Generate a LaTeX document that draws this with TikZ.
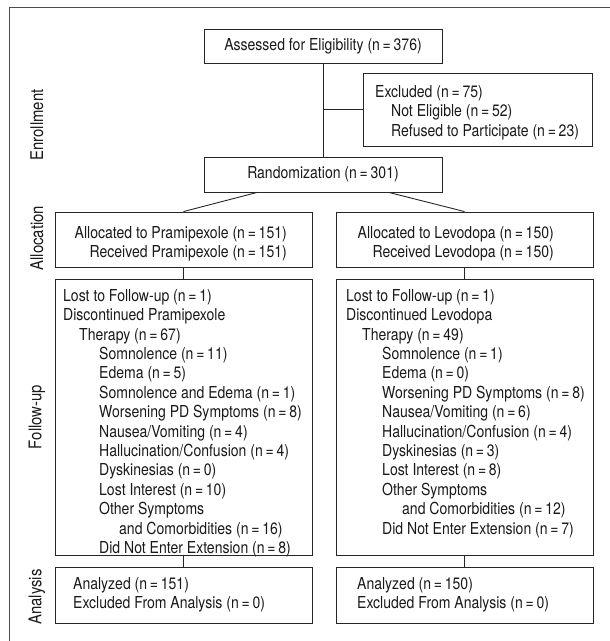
\documentclass[tikz,border=0pt]{standalone}
\usepackage{fontspec}
\setmainfont{TeX Gyre Heros}[FakeStretch=0.85]
\newcommand\eqs{\,=\,}
\newcommand\ia{\hspace*{16pt}}
\newcommand\ib{\hspace*{36pt}}
\newcommand\ic{\hspace*{56pt}}
\begin{document}
\begin{tikzpicture}[x=1pt,y=-1pt,
  box/.style={draw=black!85, line width=0.9pt, inner sep=0pt},
  txt/.style={inner sep=0pt, align=left, anchor=north west, text=black!90,
    font=\fontsize{16.5}{19.4}\selectfont},
  ctxt/.style={inner sep=0pt, text=black!90, font=\fontsize{16.5}{19.4}\selectfont},
  lab/.style={inner sep=0pt, rotate=90, text=black!90, font=\fontsize{17.5}{20}\selectfont},
  conn/.style={draw=black!85, line width=0.9pt}]
\useasboundingbox (0,0) rectangle (610,641);
% outer frame (cropped at right and bottom)
\draw[draw=black!70, line width=1.5pt] (9.5,641) -- (9.5,7.5) -- (610,7.5);

% boxes
\node[box, minimum width=238, minimum height=34] (assess) at (323,46) {};
\node[box, minimum width=229, minimum height=73] (excl) at (477.5,109.5) {};
\node[box, minimum width=238, minimum height=35] (random) at (323,174.5) {};
\node[box, minimum width=257, minimum height=55] (allocL) at (183.5,239.5) {};
\node[box, minimum width=257, minimum height=55] (allocR) at (464.5,239.5) {};
\node[box, minimum width=257, minimum height=276] (fuL) at (183.5,417) {};
\node[box, minimum width=257, minimum height=276] (fuR) at (464.5,417) {};
\node[box, minimum width=257, minimum height=56] (anL) at (183.5,595) {};
\node[box, minimum width=257, minimum height=56] (anR) at (464.5,595) {};

% texts
\node[ctxt] (tassess) at (assess.center) {Assessed for Eligibility (n\eqs376)};
\node[txt] (texcl) at (375,85) {Excluded (n\eqs75)\\
\ia Not Eligible (n\eqs52)\\
\ia Refused to Participate (n\eqs23)};
\node[ctxt] (trandom) at (random.center) {Randomization (n\eqs301)};
\node[txt, align=right, anchor=north east] (tallocL) at (287,226) {Allocated to Pramipexole (n\eqs151)\\
Received Pramipexole (n\eqs151)};
\node[txt, align=right, anchor=north east] (tallocR) at (554,226) {Allocated to Levodopa (n\eqs150)\\
Received Levodopa (n\eqs150)};
\node[txt] (tfuL) at (63,289) {Lost to Follow-up (n\eqs1)\\
Discontinued Pramipexole\\
\ia Therapy (n\eqs67)\\
\ib Somnolence (n\eqs11)\\
\ib Edema (n\eqs5)\\
\ib Somnolence and Edema (n\eqs1)\\
\ib Worsening PD Symptoms (n\eqs8)\\
\ib Nausea/Vomiting (n\eqs4)\\
\ib Hallucination/Confusion (n\eqs4)\\
\ib Dyskinesias (n\eqs0)\\
\ib Lost Interest (n\eqs10)\\
\ib Other Symptoms\\
\ic and Comorbidities (n\eqs16)\\
\ib Did Not Enter Extension (n\eqs8)};
\node[txt] (tfuR) at (346,289) {Lost to Follow-up (n\eqs1)\\
Discontinued Levodopa\\
\ia Therapy (n\eqs49)\\
\ib Somnolence (n\eqs1)\\
\ib Edema (n\eqs0)\\
\ib Worsening PD Symptoms (n\eqs8)\\
\ib Nausea/Vomiting (n\eqs6)\\
\ib Hallucination/Confusion (n\eqs4)\\
\ib Dyskinesias (n\eqs3)\\
\ib Lost Interest (n\eqs8)\\
\ib Other Symptoms\\
\ic and Comorbidities (n\eqs12)\\
\ib Did Not Enter Extension (n\eqs7)};
\node[txt] (tanL) at (73,577) {Analyzed (n\eqs151)\\
Excluded From Analysis (n\eqs0)};
\node[txt] (tanR) at (357,577) {Analyzed (n\eqs150)\\
Excluded From Analysis (n\eqs0)};

% section labels
\node[lab] (lenr) at (37,125) {Enrollment};
\node[lab] (lall) at (37,238) {Allocation};
\node[lab] (lfu) at (37,417) {Follow-up};
\node[lab] (lan) at (37,597) {Analysis};

% connectors
\draw[conn] (assess.south) -- (random.north);
\draw[conn] (assess.south |- excl.west) -- (excl.west);
\draw[conn] ([xshift=-66pt]random.south) -- (allocL.north);
\draw[conn] ([xshift=66pt]random.south) -- (allocR.north);
\draw[conn] (allocL.south) -- (fuL.north);
\draw[conn] (allocR.south) -- (fuR.north);
\draw[conn] (fuL.south) -- (anL.north);
\draw[conn] (fuR.south) -- (anR.north);
\end{tikzpicture}
\end{document}
